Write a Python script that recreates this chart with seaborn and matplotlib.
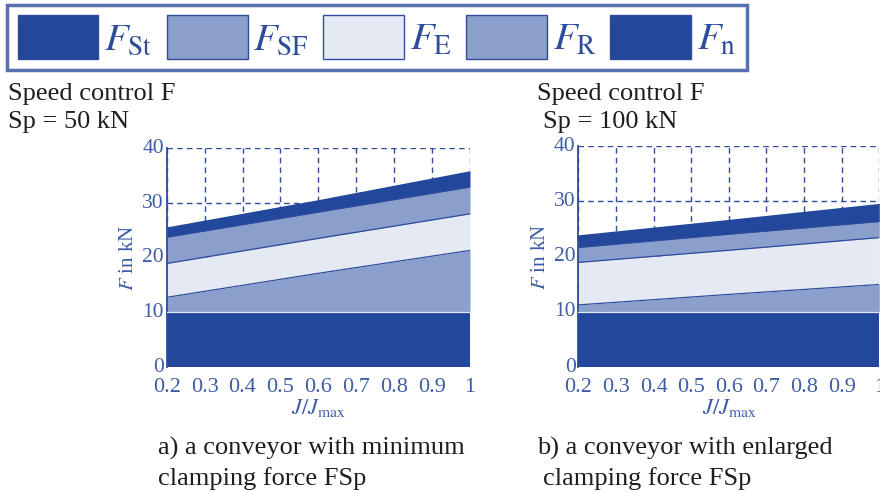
import numpy as np
import matplotlib
matplotlib.use("Agg")
import matplotlib.pyplot as plt
import matplotlib.transforms as mtransforms
from matplotlib.patches import Patch
import seaborn as sns

# J/J_max positions where the band limits were read
j_ratio = [0.2, 0.6, 1.0]

# a) minimum clamping force FSp = 50 kN (band thickness in kN, bottom to top)
fn_min = [10.0, 10.0, 10.0]
fr_min = [2.7, 7.1, 11.3]
fe_min = [6.2, 6.4, 6.7]
fsf_min = [4.8, 4.8, 4.9]
fst_min = [1.9, 2.3, 3.0]

# b) enlarged clamping force FSp = 100 kN
fn_enl = [10.0, 10.0, 10.0]
fr_enl = [1.2, 3.1, 4.9]
fe_enl = [7.7, 8.0, 8.5]
fsf_enl = [2.7, 2.9, 2.9]
fst_enl = [2.3, 2.7, 3.3]

x_ticks = [0.2, 0.3, 0.4, 0.5, 0.6, 0.7, 0.8, 0.9, 1.0]
x_tick_labels = ["0.2", "0.3", "0.4", "0.5", "0.6", "0.7", "0.8", "0.9", "1"]
y_ticks = [0, 10, 20, 30, 40]

legend_labels = [r"$F_{\mathrm{St}}$", r"$F_{\mathrm{SF}}$", r"$F_{\mathrm{E}}$",
                 r"$F_{\mathrm{R}}$", r"$F_{\mathrm{n}}$"]

DARK = "#23479a"
MID = "#8b9fcc"
LIGHT = "#e5e9f3"
EDGE = "#2d4c9c"
TICK_BLUE = "#3d5ca6"
SERIF = ["Liberation Serif", "DejaVu Serif"]

sns.set_theme(style="white")
plt.rcParams["font.family"] = SERIF
plt.rcParams["mathtext.fontset"] = "stix"

fig = plt.figure(figsize=(8.8, 4.92), dpi=100)
ax_a = fig.add_axes([0.1894, 0.2547, 0.3447, 0.4439])
ax_b = fig.add_axes([0.6572, 0.2547, 0.3420, 0.4486])


def draw_panel(ax, bands):
    colors = [DARK, MID, LIGHT, MID, DARK]
    ax.stackplot(j_ratio, *bands, colors=colors, linewidth=0, zorder=2)
    tops = np.cumsum(np.array(bands), axis=0)
    # thin boundary lines between the bands
    for i, top in enumerate(tops[:-1]):
        line_color = "#dfe5f2" if i == 0 else EDGE
        sns.lineplot(x=j_ratio, y=top, ax=ax, color=line_color, linewidth=0.9, zorder=3)
    ax.set_xlim(0.2, 1.0)
    ax.set_ylim(0, 40)
    ax.set_xticks(x_ticks)
    ax.set_xticklabels(x_tick_labels)
    ax.set_yticks(y_ticks)
    ax.set_axisbelow(True)
    ax.grid(True, linestyle=(0, (4, 3)), color=EDGE, linewidth=1.0)
    for side in ["top", "right", "bottom"]:
        ax.spines[side].set_visible(False)
    ax.spines["left"].set_color(EDGE)
    ax.spines["left"].set_linewidth(1.3)
    ax.tick_params(length=0, labelcolor=TICK_BLUE)
    ax.tick_params(axis="y", labelsize=15.5, pad=2)
    ax.tick_params(axis="x", labelsize=16, pad=8)
    # y tick labels sit a little above their gridline in the original
    lift = mtransforms.ScaledTranslation(0, 1.5 / 72, fig.dpi_scale_trans)
    for lab in ax.get_yticklabels():
        lab.set_transform(lab.get_transform() + lift)
    ax.set_xlabel(r"$J/J_{\mathrm{max}}$", fontsize=16, color=TICK_BLUE, labelpad=0.5)
    ax.set_ylabel(r"$F$ in kN", fontsize=15, color=TICK_BLUE, labelpad=3)
    ax.patch.set_alpha(0)


draw_panel(ax_a, [fn_min, fr_min, fe_min, fsf_min, fst_min])
draw_panel(ax_b, [fn_enl, fr_enl, fe_enl, fsf_enl, fst_enl])

handles = [Patch(facecolor=c, edgecolor=EDGE, linewidth=1.0)
           for c in [DARK, MID, LIGHT, MID, DARK]]
leg = fig.legend(handles, legend_labels, loc="upper left", bbox_to_anchor=(0.008, 0.99),
                 ncol=5, fontsize=28, frameon=True, fancybox=False,
                 handlelength=2.08, handleheight=1.35, handletextpad=0.15,
                 columnspacing=0.36, borderpad=0.27, borderaxespad=0)
leg.get_frame().set_edgecolor(EDGE)
leg.get_frame().set_linewidth(2.5)
for t in leg.get_texts():
    t.set_color(EDGE)

txt = dict(fontsize=19, color="#1e1e1e", family=SERIF, va="baseline")
fig.text(8 / 880, 1 - 100 / 492, "Speed control F", **txt)
fig.text(8 / 880, 1 - 128 / 492, "Sp = 50 kN", **txt)
fig.text(537 / 880, 1 - 100 / 492, "Speed control F", **txt)
fig.text(543 / 880, 1 - 128 / 492, "Sp = 100 kN", **txt)
fig.text(158 / 880, 1 - 455 / 492, "a) a conveyor with minimum", **txt)
fig.text(158 / 880, 1 - 485 / 492, "clamping force FSp", **txt)
fig.text(537 / 880, 1 - 455 / 492, "b) a conveyor with enlarged", **txt)
fig.text(543 / 880, 1 - 485 / 492, "clamping force FSp", **txt)

fig.savefig("out.png", dpi=100)
